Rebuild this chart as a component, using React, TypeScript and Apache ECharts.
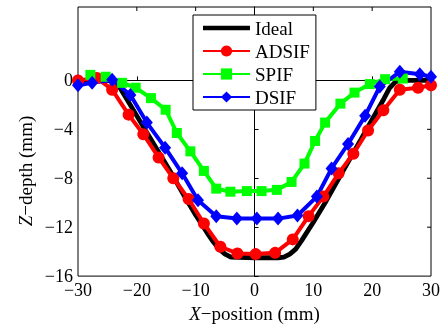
import React, { useEffect, useRef } from "react";
import * as echarts from "echarts";

// Ideal profile
const idealX = [-30, -25, -24, -23, -22, -20, -18, -16, -14, -12, -10, -8, -7, -6, -5, -4, 0, 4, 5, 6, 7, 8, 10, 12, 14, 16, 18, 20, 22, 23, 24, 25, 30];
const idealY = [0, 0, -0.1, -0.5, -1.3, -2.9, -4.5, -6.1, -7.7, -9.4, -11.0, -12.5, -13.2, -13.8, -14.2, -14.45, -14.5, -14.5, -14.45, -14.2, -13.8, -13.1, -11.6, -10.0, -8.3, -6.6, -4.9, -3.2, -1.5, -0.6, -0.1, 0, 0];

// ADSIF
const adsifX = [-30, -26.8, -24.2, -21.4, -18.9, -16.3, -13.8, -11.2, -8.6, -5.8, -2.9, 0.2, 3.5, 6.5, 9.2, 11.7, 14.3, 16.8, 19.3, 21.9, 24.7, 27.8, 30];
const adsifY = [0, 0.2, -0.76, -2.8, -4.4, -6.3, -8.0, -9.7, -11.7, -13.6, -14.15, -14.2, -14.1, -13.0, -11.1, -9.5, -7.6, -6.0, -4.1, -2.45, -0.76, -0.6, -0.4];

// SPIF
const spifX = [-27.9, -25.3, -22.5, -20.2, -17.6, -15.1, -13.2, -10.9, -8.6, -6.5, -4.1, -1.3, 1.2, 3.8, 6.3, 8.5, 10.3, 12.0, 14.6, 17.0, 19.6, 22.2, 25.2];
const spifY = [0.45, 0.3, -0.2, -0.6, -1.45, -2.4, -4.3, -5.8, -7.4, -8.85, -9.1, -9.05, -9.05, -8.95, -8.3, -6.8, -4.95, -3.45, -1.9, -1.0, -0.3, 0.1, 0.15];

// DSIF
const dsifX = [-30, -27.6, -24.2, -21.1, -18.3, -15.2, -12.3, -9.6, -6.5, -3.0, 0.4, 4.0, 7.3, 10.6, 13.1, 15.9, 18.8, 21.3, 24.7, 28.1, 30];
const dsifY = [-0.4, -0.2, 0.05, -1.2, -3.45, -5.5, -7.6, -9.8, -11.1, -11.3, -11.3, -11.3, -11.05, -9.5, -7.2, -5.2, -2.9, -0.5, 0.7, 0.5, 0.3];

const yTicks = [-16, -12, -8, -4, 0];
const xTicks = [-30, -20, -10, 0, 10, 20, 30];
const topTicks = [-20, -10, 0, 10, 20];
const rightTicks = [-12, -8, -4, 0];
const X_MAX = 30;
const Y_MAX = 6;

const zip = (xs: number[], ys: number[]) => xs.map((x, i) => [x, ys[i]]);

const FONT = "Liberation Serif";
const minus = (v: number) => String(v).replace("-", "\u2212");

export default function App() {
  const ref = useRef<HTMLDivElement>(null);
  useEffect(() => {
    if (!ref.current) return;
    const chart = echarts.init(ref.current, null, { renderer: "svg" });
    chart.setOption({
      animation: false,
      grid: { left: 78, top: 7, width: 353, height: 273, show: true, borderColor: "#000", borderWidth: 1 },
      legend: {
        data: [
          { name: "Ideal", icon: "path://M0 0H47V4.5H0Z" },
          "ADSIF",
          "SPIF",
          "DSIF",
        ],
        orient: "vertical",
        left: 193,
        top: 15,
        padding: [3, 6, 3, 9],
        itemWidth: 47,
        itemHeight: 14,
        itemGap: 3,
        itemTextGap: 5,
        symbolKeepAspect: true,
        borderColor: "#000",
        borderWidth: 1,
        backgroundColor: "#fff",
        selectedMode: false,
        textStyle: { fontFamily: FONT, fontSize: 19, color: "#000", lineHeight: 20 },
      },
      xAxis: {
        type: "value",
        min: -30,
        max: 30,
        interval: 10,
        position: "bottom",
        axisLine: { show: true, lineStyle: { color: "#000", width: 1 } },
        splitLine: { show: false },
        axisTick: { show: true, inside: true, length: 4, lineStyle: { color: "#000" } },
        axisLabel: { fontFamily: FONT, fontSize: 18, color: "#000", margin: 5, customValues: xTicks, formatter: minus },
        name: "{i|X}\u2212position (mm)",
        nameLocation: "middle",
        nameGap: 24,
        nameTextStyle: {
          fontFamily: FONT,
          fontSize: 19,
          color: "#000",
          rich: { i: { fontFamily: FONT, fontSize: 19, fontStyle: "italic", color: "#000" } },
        },
      },
      yAxis: {
        type: "value",
        min: -16,
        max: 6,
        interval: 4,
        position: "left",
        axisLine: { show: true, lineStyle: { color: "#000", width: 1 } },
        splitLine: { show: false },
        axisTick: { show: true, inside: true, length: 4, customValues: yTicks, lineStyle: { color: "#000" } },
        axisLabel: { fontFamily: FONT, fontSize: 18, color: "#000", margin: 5, customValues: yTicks, formatter: minus },
      },
      graphic: [
        {
          type: "text",
          x: 25,
          y: 171,
          rotation: Math.PI / 2,
          style: {
            text: "{i|Z}\u2212depth (mm)",
            fontFamily: FONT,
            fontSize: 19,
            fill: "#000",
            align: "center",
            verticalAlign: "middle",
            rich: { i: { fontFamily: FONT, fontSize: 19, fontStyle: "italic" } },
          },
        },
      ],
      series: [
        {
          name: "topTicks",
          type: "custom",
          silent: true,
          data: topTicks.map((v) => [v, Y_MAX]),
          renderItem: (_p: any, api: any) => {
            const p = api.coord([api.value(0), api.value(1)]);
            return { type: "line", shape: { x1: p[0], y1: p[1], x2: p[0], y2: p[1] + 4 }, style: { stroke: "#000", lineWidth: 1 } };
          },
        },
        {
          name: "rightTicks",
          type: "custom",
          silent: true,
          data: rightTicks.map((v) => [X_MAX, v]),
          renderItem: (_p: any, api: any) => {
            const p = api.coord([api.value(0), api.value(1)]);
            return { type: "line", shape: { x1: p[0], y1: p[1], x2: p[0] - 4, y2: p[1] }, style: { stroke: "#000", lineWidth: 1 } };
          },
        },
        {
          name: "Ideal",
          type: "line",
          data: zip(idealX, idealY),
          symbol: "none",
          color: "#000",
          lineStyle: { color: "#000", width: 4.8 },
        },
        {
          name: "ADSIF",
          type: "line",
          data: zip(adsifX, adsifY),
          symbol: "circle",
          symbolSize: 12,
          color: "#ff0000",
          lineStyle: { color: "#ff0000", width: 4 },
          itemStyle: { color: "#ff0000" },
        },
        {
          name: "SPIF",
          type: "line",
          data: zip(spifX, spifY),
          symbol: "rect",
          symbolSize: 10,
          color: "#00ff00",
          lineStyle: { color: "#00ff00", width: 4 },
          itemStyle: { color: "#00ff00" },
        },
        {
          name: "DSIF",
          type: "line",
          data: zip(dsifX, dsifY),
          symbol: "diamond",
          symbolSize: [12, 14],
          color: "#0000ff",
          lineStyle: { color: "#0000ff", width: 4 },
          itemStyle: { color: "#0000ff" },
        },
      ],
    });
    return () => chart.dispose();
  }, []);
  return <div ref={ref} style={{ position: "fixed", left: 0, top: 0, width: 443, height: 328 }} />;
}
